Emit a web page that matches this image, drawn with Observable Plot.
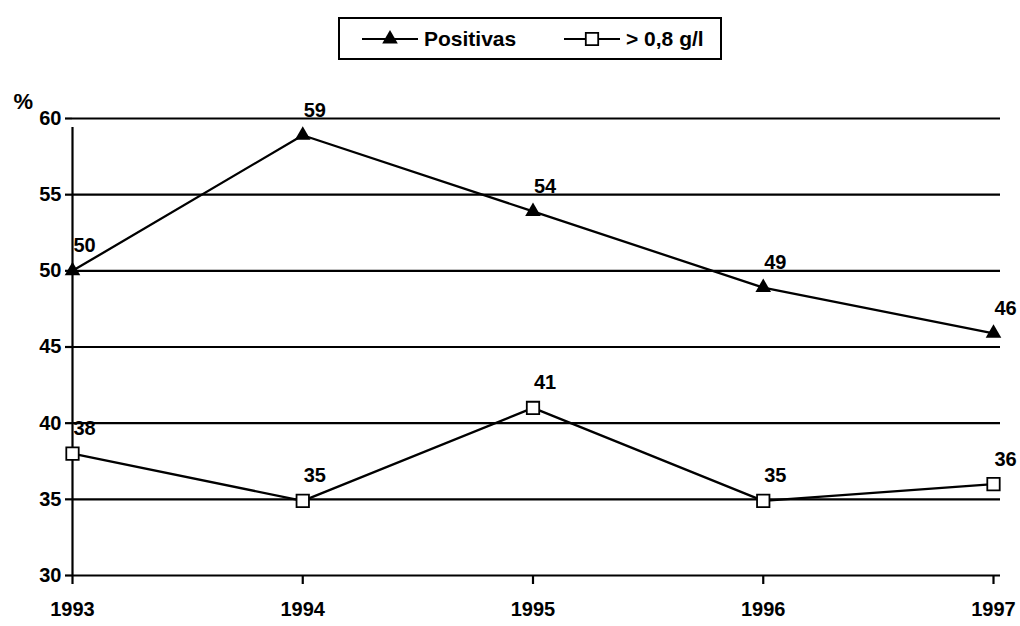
<!DOCTYPE html>
<html>
<head>
<meta charset="utf-8">
<script src="https://cdn.jsdelivr.net/npm/d3@7"></script>
<script src="https://cdn.jsdelivr.net/npm/@observablehq/plot@0.6"></script>
<style>
  html, body { margin: 0; padding: 0; background: white; }
  #wrap { position: relative; width: 1020px; height: 626px; overflow: hidden; }
  #legend { position: absolute; left: 338px; top: 17px; width: 380px; height: 39px;
    border: 2px solid black; background: white;
    font: bold 21px "Liberation Sans", Arial, sans-serif; color: black; }
  #legend .item { position: absolute; top: 0; height: 39px; display: flex; align-items: center; }
  #legend svg { display: block; }
</style>
</head>
<body>
<div id="wrap">
  <div id="chart"></div>
  <div id="legend"></div>
</div>
<script>
const years = [1993, 1994, 1995, 1996, 1997];
const positivas = [50.0, 58.9, 53.9, 48.9, 45.9];
const sobre08 = [38.0, 34.9, 41.0, 34.9, 36.0];
const yTicks = [30, 35, 40, 45, 50, 55, 60];
const seriesNames = ["Positivas", "> 0,8 g/l"];

const rowsPos = years.map((y, i) => ({year: y, value: positivas[i], series: seriesNames[0]}));
const rowsSq = years.map((y, i) => ({year: y, value: sobre08[i], series: seriesNames[1]}));
const rows = rowsPos.concat(rowsSq);

const font = '"Liberation Sans", Arial, sans-serif';

const chart = Plot.plot({
  width: 1020,
  height: 626,
  marginLeft: 72,
  marginRight: 27,
  marginTop: 118,
  marginBottom: 51,
  style: {fontFamily: font, fontSize: "20px", fontWeight: "bold", color: "black", background: "white"},
  x: {domain: [1993, 1997]},
  y: {domain: [30, 60]},
  marks: [
    Plot.ruleY(yTicks, {stroke: "black", strokeWidth: 2.2, insetRight: -7}),
    Plot.ruleX([1993], {y1: 30, y2: 60, stroke: "black", strokeWidth: 2.2, insetBottom: -9}),
    Plot.axisY({ticks: yTicks, tickSize: 7, tickPadding: 4, strokeWidth: 2.2, label: null, tickFormat: d => String(d)}),
    Plot.axisX({ticks: years, tickSize: 9, tickPadding: 17, strokeWidth: 2.2, label: null, tickFormat: d => String(d)}),
    Plot.line(rows, {x: "year", y: "value", z: "series", stroke: "black", strokeWidth: 2.3}),
    Plot.dot(rowsPos, {x: "year", y: "value", symbol: "triangle", r: 5.8, fill: "black"}),
    Plot.dot(rowsSq, {x: "year", y: "value", symbol: "square", r: 7, fill: "white", stroke: "black", strokeWidth: 1.8}),
    Plot.text(rows, {x: "year", y: "value", text: d => String(Math.round(d.value)), dx: 12, dy: -25, fill: "black"}),
    Plot.text(["%"], {frameAnchor: "top-left", text: d => d, dx: -59, dy: -25, textAnchor: "start", fill: "black", fontSize: 22})
  ]
});
document.getElementById("chart").appendChild(chart);

// Legend
const legend = document.getElementById("legend");
function item(left, name, kind) {
  const div = document.createElement("div");
  div.className = "item";
  div.style.left = left + "px";
  const ns = "http://www.w3.org/2000/svg";
  const svg = document.createElementNS(ns, "svg");
  svg.setAttribute("width", 56); svg.setAttribute("height", 20);
  const line = document.createElementNS(ns, "line");
  line.setAttribute("x1", 0); line.setAttribute("x2", 56);
  line.setAttribute("y1", 10); line.setAttribute("y2", 10);
  line.setAttribute("stroke", "black"); line.setAttribute("stroke-width", 2.2);
  svg.appendChild(line);
  const sym = document.createElementNS(ns, "path");
  const gen = d3.symbol(kind === "triangle" ? d3.symbolTriangle : d3.symbolSquare, kind === "triangle" ? Math.PI * 5.8 * 5.8 : Math.PI * 7 * 7);
  sym.setAttribute("d", gen());
  sym.setAttribute("transform", "translate(28,10)");
  if (kind === "triangle") { sym.setAttribute("fill", "black"); }
  else { sym.setAttribute("fill", "white"); sym.setAttribute("stroke", "black"); sym.setAttribute("stroke-width", 1.8); }
  svg.appendChild(sym);
  div.appendChild(svg);
  const span = document.createElement("span");
  span.textContent = name;
  span.style.marginLeft = "6px";
  div.appendChild(span);
  legend.appendChild(div);
}
item(22, seriesNames[0], "triangle");
item(224, seriesNames[1], "square");
</script>
</body>
</html>
